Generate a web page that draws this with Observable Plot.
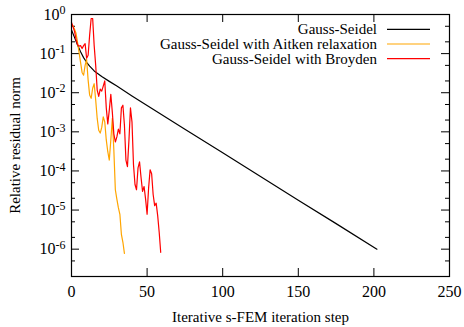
<!DOCTYPE html>
<html><head><meta charset="utf-8">
<script src="https://cdn.jsdelivr.net/npm/d3@7"></script>
<script src="https://cdn.jsdelivr.net/npm/@observablehq/plot@0.6"></script>
<style>body{margin:0;background:#fff} svg{display:block}</style>
</head><body><div id="chart"></div>
<script>
const seriesNames = ["Gauss-Seidel", "Gauss-Seidel with Aitken relaxation", "Gauss-Seidel with Broyden"];
const seriesColors = ["#000000", "#ffa500", "#ff0000"];

const gsSteps = [0, 2, 4, 6, 8, 10, 12, 15, 20, 25, 30, 40, 50, 75, 100, 125, 150, 175, 202];
const gsResidual = [0.40, 0.26, 0.166, 0.112, 0.079, 0.060, 0.048, 0.036, 0.026, 0.0195, 0.0148, 0.0083, 0.0047, 0.00117, 0.00029, 7.2e-5, 1.78e-5, 4.5e-6, 1.0e-6];

const aitkenResidual = [0.56, 0.51, 0.42, 0.33, 0.195, 0.107, 0.060, 0.033, 0.028, 0.050,
  0.071, 0.021, 0.0087, 0.0072, 0.013, 0.017, 0.0065, 0.0022, 0.0011, 0.00093,
  0.0013, 0.0024, 0.0018, 0.00062, 0.00031, 0.00019, 0.00062, 0.0022, 0.00035, 3.3e-5,
  1.9e-5, 1.15e-5, 7.8e-6, 2.4e-6, 1.5e-6, 7.8e-7];

const broydenResidual = [0.63, 0.49, 0.37, 0.23, 0.17, 0.155, 0.16, 0.135, 0.16, 0.18,
  0.076, 0.091, 0.30, 0.79, 0.79, 0.16, 0.050, 0.0117, 0.0081, 0.0123,
  0.011, 0.0148, 0.020, 0.0041, 0.0016, 0.0036, 0.0091, 0.0032, 0.00089, 0.00055,
  0.00074, 0.00117, 0.00089, 0.0041, 0.0048, 0.0015, 0.00019, 0.000129, 0.00062, 0.0041,
  0.0018, 0.000145, 4.5e-5, 3.3e-5, 0.00012, 0.00017, 6.8e-5, 3.0e-5, 4.0e-5, 1.9e-5,
  7.8e-6, 3.7e-5, 0.000107, 8.5e-5, 2.5e-5, 1.3e-5, 1.5e-5, 7.2e-6, 2.7e-6, 8.3e-7];

const xTicks = [0, 50, 100, 150, 200, 250];
const yMajorTicks = [1, 1e-1, 1e-2, 1e-3, 1e-4, 1e-5, 1e-6];
const yMinorTicks = [5e-1, 2e-1, 5e-2, 2e-2, 5e-3, 2e-3, 5e-4, 2e-4, 5e-5, 2e-5, 5e-6, 2e-6, 5e-7];
const xLabel = "Iterative s-FEM iteration step";
const yLabel = "Relative residual norm";

const W = 464, H = 327, mL = 71, mR = 15, mT = 14, mB = 51;
const fw = W - mL - mR, fh = H - mT - mB;
const FONT = "'Liberation Serif', 'Times New Roman', serif";
const FS = 15, TFS = 16;

const gsData = gsSteps.map((s, i) => ({step: s, value: gsResidual[i]}));
const aitkenData = aitkenResidual.map((v, i) => ({step: i, value: v}));
const broydenData = broydenResidual.map((v, i) => ({step: i, value: v}));

const svg = Plot.plot({
  width: W, height: H,
  marginLeft: mL, marginRight: mR, marginTop: mT, marginBottom: mB,
  style: {fontFamily: FONT, fontSize: FS + "px", background: "#fff", color: "#000"},
  x: {domain: [0, 250], axis: null},
  y: {type: "log", domain: [2e-7, 1], axis: null},
  marks: [
    Plot.ruleY(yMajorTicks, {y: d => d, insetRight: fw - 8, strokeWidth: 1}),
    Plot.ruleY(yMajorTicks, {y: d => d, insetLeft: fw - 8, strokeWidth: 1}),
    Plot.ruleY(yMinorTicks, {y: d => d, insetRight: fw - 4, strokeWidth: 1}),
    Plot.ruleY(yMinorTicks, {y: d => d, insetLeft: fw - 4, strokeWidth: 1}),
    Plot.ruleX(xTicks, {x: d => d, insetTop: fh - 8, strokeWidth: 1}),
    Plot.ruleX(xTicks, {x: d => d, insetBottom: fh - 8, strokeWidth: 1}),
    Plot.axisY(yMajorTicks, {tickSize: 0, tickPadding: 6, fontSize: TFS, tickFormat: d => "1e" + Math.round(Math.log10(d)),
      label: null}),
    Plot.axisY({tickSize: 0, ticks: [], label: yLabel, fontSize: FS, labelAnchor: "center", labelOffset: 62, labelArrow: "none"}),
    Plot.axisX(xTicks, {tickSize: 0, tickPadding: 9, fontSize: TFS, tickFormat: d => String(d), label: null}),
    Plot.axisX({tickSize: 0, ticks: [], label: xLabel, fontSize: FS, labelAnchor: "center", labelOffset: 45, labelArrow: "none"}),
    Plot.line(gsData, {x: "step", y: "value", stroke: seriesColors[0], strokeWidth: 1.2}),
    Plot.line(aitkenData, {x: "step", y: "value", stroke: seriesColors[1], strokeWidth: 1.2}),
    Plot.line(broydenData, {x: "step", y: "value", stroke: seriesColors[2], strokeWidth: 1.2}),
    Plot.frame({stroke: "#000", strokeWidth: 1.2})
  ]
});

// superscript exponents on the y tick labels
svg.querySelectorAll('[aria-label="y-axis tick label"] text').forEach(t => {
  const m = t.textContent.match(/^1e(-?\d+)$/);
  if (!m) return;
  t.textContent = "";
  const s = d3.select(t);
  s.append("tspan").text("10");
  s.append("tspan").attr("dy", "-0.45em").attr("font-size", "12px").text(m[1]);
});

// legend (inside the frame, top right)
const frameRight = W - mR;
const lg = d3.select(svg).append("g").attr("font-family", FONT).attr("font-size", FS + "px");
seriesNames.forEach((name, i) => {
  const y = mT + 15.3 + i * 14.7;
  lg.append("text").attr("x", frameRight - 72).attr("y", y).attr("dy", "0.32em")
    .attr("text-anchor", "end").attr("fill", "#000").text(name);
  lg.append("line").attr("x1", frameRight - 62).attr("x2", frameRight - 19)
    .attr("y1", y).attr("y2", y).attr("stroke", seriesColors[i]).attr("stroke-width", 1.2);
});

document.getElementById("chart").appendChild(svg);
</script>
</body></html>
